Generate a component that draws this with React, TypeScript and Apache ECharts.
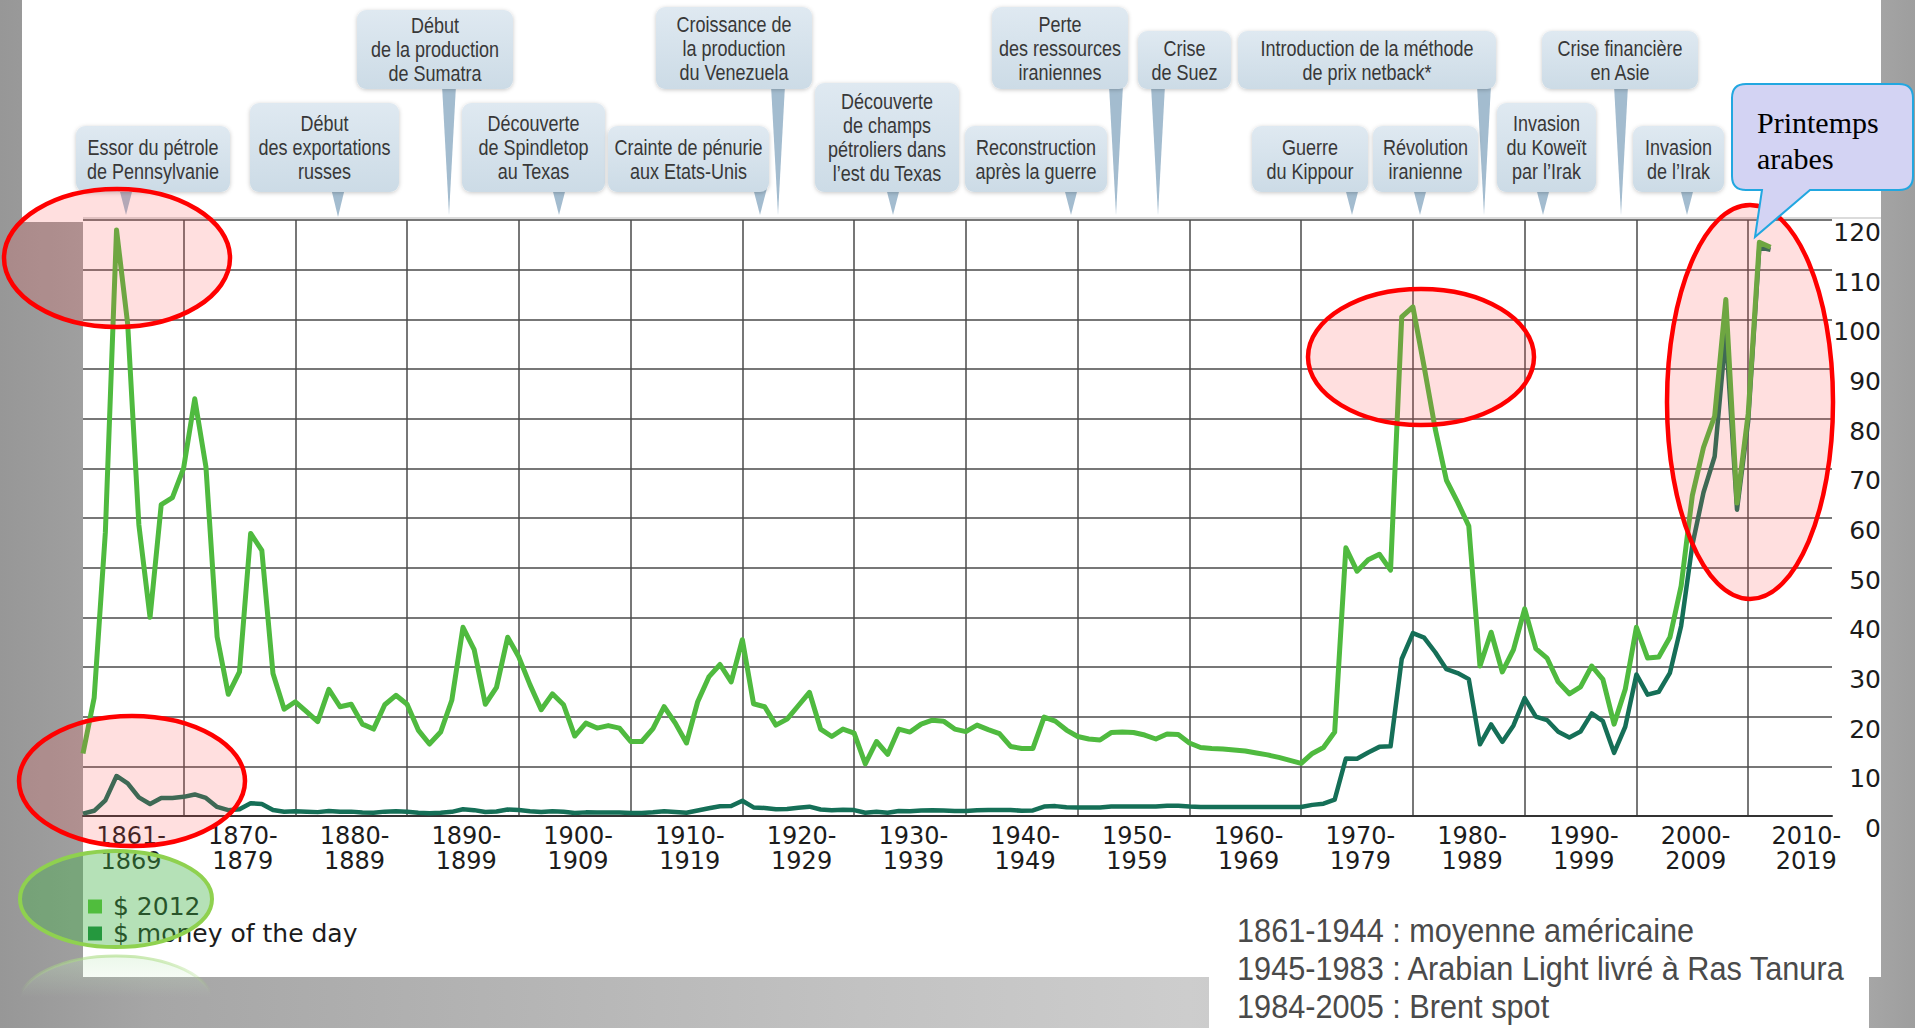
import React, { useEffect, useRef } from "react";
import * as echarts from "echarts";

// ---------- DATA ----------
const FIRST_YEAR = 1861;

// Crude oil price, US$ 2012 (light green line), one value per year 1861-2012
const priceReal2012 = [
  12.6, 23.8, 57.1, 118.0, 99.0, 58.6, 40.0, 62.7, 64.1, 70.0,
  84.0, 70.3, 36.1, 24.5, 29.0, 56.9, 53.5, 28.7, 21.5, 23.0,
  21.0, 19.0, 25.5, 22.0, 22.5, 18.5, 17.5, 22.4, 24.3, 22.5,
  17.3, 14.5, 16.9, 23.3, 38.0, 33.5, 22.5, 25.9, 36.0, 32.0,
  26.4, 21.4, 24.6, 22.4, 16.1, 18.7, 17.7, 18.2, 17.7, 15.0,
  15.0, 17.6, 22.0, 18.7, 14.7, 23.0, 28.0, 30.5, 27.0, 35.5,
  22.6, 22.0, 18.3, 19.5, 22.2, 24.9, 17.5, 16.0, 17.5, 16.7,
  10.5, 15.0, 12.4, 17.5, 16.9, 18.5, 19.3, 19.1, 17.5, 17.0,
  18.3, 17.4, 16.6, 14.0, 13.6, 13.6, 19.9, 19.1, 17.3, 16.0,
  15.5, 15.3, 16.8, 16.9, 16.8, 16.3, 15.5, 16.5, 16.4, 14.7,
  13.8, 13.6, 13.5, 13.3, 13.1, 12.7, 12.3, 11.8, 11.2, 10.6,
  12.6, 13.8, 16.9, 54.0, 49.3, 51.6, 52.7, 49.5, 100.5, 102.5,
  90.5, 77.9, 67.6, 63.2, 58.4, 30.2, 37.0, 29.0, 33.5, 41.7,
  33.7, 31.8, 27.0, 24.6, 26.0, 30.2, 27.5, 18.5, 25.5, 38.0,
  31.8, 32.0, 36.0, 46.3, 64.5, 74.2, 80.5, 104.0, 63.0, 81.0,
  115.5, 114.5,
];

// Crude oil price, money of the day (dark line), 1861-2012
const priceMoneyOfDay = [
  0.49, 1.05, 3.15, 8.06, 6.59, 3.74, 2.41, 3.63, 3.64, 3.86,
  4.34, 3.64, 1.83, 1.17, 1.35, 2.56, 2.42, 1.19, 0.86, 0.95,
  0.86, 0.78, 1.0, 0.84, 0.88, 0.71, 0.67, 0.88, 0.94, 0.87,
  0.67, 0.56, 0.64, 0.84, 1.36, 1.18, 0.79, 0.91, 1.29, 1.19,
  0.96, 0.8, 0.94, 0.86, 0.62, 0.73, 0.72, 0.72, 0.7, 0.61,
  0.61, 0.74, 0.95, 0.81, 0.64, 1.1, 1.56, 1.98, 2.01, 3.07,
  1.73, 1.61, 1.34, 1.43, 1.68, 1.88, 1.3, 1.17, 1.27, 1.19,
  0.65, 0.87, 0.67, 1.0, 0.97, 1.09, 1.18, 1.13, 1.02, 1.02,
  1.14, 1.19, 1.2, 1.21, 1.05, 1.12, 1.9, 1.99, 1.78, 1.71,
  1.71, 1.71, 1.93, 1.93, 1.93, 1.93, 1.9, 2.08, 2.08, 1.9,
  1.8, 1.8, 1.8, 1.8, 1.8, 1.8, 1.8, 1.8, 1.8, 1.8,
  2.24, 2.48, 3.29, 11.58, 11.53, 12.8, 13.92, 14.02, 31.61, 36.83,
  35.93, 32.97, 29.55, 28.78, 27.56, 14.43, 18.44, 14.92, 18.23, 23.73,
  20.0, 19.32, 16.97, 15.82, 17.02, 20.67, 19.09, 12.72, 17.97, 28.5,
  24.44, 25.02, 28.83, 38.27, 54.52, 65.14, 72.39, 97.26, 61.67, 79.5,
  114.5, 114.0,
];

const decadeLines = [1870, 1880, 1890, 1900, 1910, 1920, 1930, 1940, 1950, 1960, 1970, 1980, 1990, 2000, 2010];
const decadeLabels = [
  "1861-\n1869", "1870-\n1879", "1880-\n1889", "1890-\n1899", "1900-\n1909", "1910-\n1919",
  "1920-\n1929", "1930-\n1939", "1940-\n1949", "1950-\n1959", "1960-\n1969", "1970-\n1979",
  "1980-\n1989", "1990-\n1999", "2000-\n2009", "2010-\n2019",
];
const decadeLabelAt = [1865.3, 1875.3, 1885.3, 1895.3, 1905.3, 1915.3, 1925.3, 1935.3, 1945.3, 1955.3, 1965.3, 1975.3, 1985.3, 1995.3, 2005.3, 2015.2];

const seriesNames = ["$ 2012", "$ money of the day"];

const noteLines = [
  "1861-1944 : moyenne américaine",
  "1945-1983 : Arabian Light livré à Ras Tanura",
  "1984-2005 : Brent spot",
];

// ---------- LAYOUT OF THE ANNOTATIONS (pixels) ----------
type Callout = { lines: string[]; box: [number, number, number, number]; tip: [number, number] };
const callouts: Callout[] = [
  { lines: ["Essor du pétrole", "de Pennsylvanie"], box: [76, 126, 230, 192], tip: [126, 215] },
  { lines: ["Début", "des exportations", "russes"], box: [250, 103, 399, 192], tip: [338, 217] },
  { lines: ["Début", "de la production", "de Sumatra"], box: [357, 10, 513, 89], tip: [449, 215] },
  { lines: ["Découverte", "de Spindletop", "au Texas"], box: [462, 103, 605, 192], tip: [559, 215] },
  { lines: ["Crainte de pénurie", "aux Etats-Unis"], box: [608, 126, 769, 192], tip: [760, 215] },
  { lines: ["Croissance de", "la production", "du Venezuela"], box: [656, 7, 812, 89], tip: [778, 215] },
  { lines: ["Découverte", "de champs", "pétroliers dans", "l’est du Texas"], box: [815, 83, 959, 192], tip: [893, 215] },
  { lines: ["Reconstruction", "après la guerre"], box: [965, 126, 1107, 192], tip: [1071, 215] },
  { lines: ["Perte", "des ressources", "iraniennes"], box: [992, 7, 1128, 89], tip: [1116, 215] },
  { lines: ["Crise", "de Suez"], box: [1138, 31, 1231, 89], tip: [1158, 215] },
  { lines: ["Introduction de la méthode", "de prix netback*"], box: [1238, 31, 1496, 89], tip: [1484, 215] },
  { lines: ["Guerre", "du Kippour"], box: [1252, 126, 1368, 192], tip: [1352, 215] },
  { lines: ["Révolution", "iranienne"], box: [1373, 126, 1478, 192], tip: [1420, 215] },
  { lines: ["Invasion", "du Koweït", "par l’Irak"], box: [1497, 103, 1596, 192], tip: [1543, 215] },
  { lines: ["Crise financière", "en Asie"], box: [1542, 31, 1698, 89], tip: [1621, 215] },
  { lines: ["Invasion", "de l’Irak"], box: [1633, 126, 1724, 192], tip: [1687, 215] },
];

const redEllipses = [
  { cx: 117, cy: 258, rx: 113, ry: 69 },
  { cx: 132, cy: 781, rx: 113, ry: 65 },
  { cx: 1421, cy: 357, rx: 113, ry: 68 },
  { cx: 1750, cy: 402, rx: 83, ry: 197 },
];

const PA_PATH =
  "M1746 84 L1899 84 Q1913 84 1913 98 L1913 176 Q1913 190 1899 190 L1810 190 L1755 237 L1762 190 L1746 190 Q1732 190 1732 176 L1732 98 Q1732 84 1746 84 Z";
echarts.graphic.registerShape("paCallout", echarts.graphic.extendPath(PA_PATH, {}));

const SANS = "'Liberation Sans', Arial, sans-serif";

function buildGraphic() {
  const els: any[] = [];
  els.push({
    type: "line",
    z: 1,
    shape: { x1: 83, y1: 218, x2: 1881, y2: 218 },
    style: { stroke: "#cfcfcf", lineWidth: 1.5 },
  });
  callouts.forEach((c) => {
    const [x1, y1, x2, y2] = c.box;
    const [tx, ty] = c.tip;
    els.push({
      type: "polygon",
      z: 9,
      shape: { points: [[tx - 7, y2 - 4], [tx + 7, y2 - 4], [tx, ty]] },
      style: { fill: "#a3bccf" },
    });
    els.push({
      type: "rect",
      z: 10,
      shape: { x: x1, y: y1, width: x2 - x1, height: y2 - y1, r: 9 },
      style: {
        fill: {
          type: "linear", x: 0, y: 0, x2: 0, y2: 1,
          colorStops: [
            { offset: 0, color: "#dfe9f1" },
            { offset: 1, color: "#ccdbe6" },
          ],
        },
        shadowBlur: 4,
        shadowColor: "rgba(0,0,0,0.22)",
        shadowOffsetY: 1,
      },
    });
    els.push({
      type: "text",
      z: 11,
      x: (x1 + x2) / 2,
      y: (y1 + y2) / 2,
      scaleX: 0.8,
      style: {
        text: c.lines.join("\n"),
        x: 0,
        y: 0,
        align: "center",
        textAlign: "center",
        verticalAlign: "middle",
        textVerticalAlign: "middle",
        fontFamily: SANS,
        fontSize: 22.5,
        lineHeight: 24,
        fill: "#383838",
      },
    });
  });

  redEllipses.forEach((e) => {
    els.push({
      type: "ellipse",
      z: 50,
      shape: { cx: e.cx, cy: e.cy, rx: e.rx, ry: e.ry },
      style: { fill: "rgba(255,80,80,0.18)", stroke: "#ff0000", lineWidth: 4.5 },
    });
  });

  // green ellipse around the legend
  els.push({
    type: "ellipse",
    z: 50,
    shape: { cx: 116, cy: 899, rx: 96, ry: 48 },
    style: { fill: "rgba(60,176,67,0.38)", stroke: "#8fd14f", lineWidth: 4 },
  });
  // faint fading reflection
  els.push({
    type: "ellipse",
    z: 49,
    shape: { cx: 116, cy: 1002, rx: 96, ry: 46 },
    style: {
      fill: {
        type: "linear", x: 0, y: 0, x2: 0, y2: 1,
        colorStops: [
          { offset: 0, color: "rgba(200,235,195,0.35)" },
          { offset: 0.45, color: "rgba(200,235,195,0)" },
          { offset: 1, color: "rgba(200,235,195,0)" },
        ],
      },
      stroke: {
        type: "linear", x: 0, y: 0, x2: 0, y2: 1,
        colorStops: [
          { offset: 0, color: "rgba(170,220,130,0.6)" },
          { offset: 0.4, color: "rgba(170,220,130,0)" },
          { offset: 1, color: "rgba(170,220,130,0)" },
        ],
      },
      lineWidth: 3,
    },
  });

  els.push({
    type: "paCallout",
    z: 60,
    x: 0,
    y: 0,
    style: { fill: "#d3d3f3", stroke: "#22a7e0", lineWidth: 2 },
  });
  els.push({
    type: "text",
    z: 61,
    style: {
      text: "Printemps\narabes",
      x: 1757,
      y: 140,
      align: "left",
      textAlign: "left",
      verticalAlign: "middle",
      textVerticalAlign: "middle",
      fontFamily: "'Liberation Serif', 'Times New Roman', serif",
      fontSize: 30,
      lineHeight: 36,
      fill: "#000",
    },
  });

  noteLines.forEach((t, i) => {
    els.push({
      type: "text",
      z: 5,
      x: 1237,
      y: 931 + i * 38,
      scaleX: 0.93,
      style: {
        text: t,
        x: 0,
        y: 0,
        align: "left",
        textAlign: "left",
        verticalAlign: "middle",
        textVerticalAlign: "middle",
        fontFamily: SANS,
        fontSize: 33,
        fill: "#4a4a4a",
      },
    });
  });
  return els;
}

function buildOption() {
  const realPairs = priceReal2012.map((v, i) => [FIRST_YEAR + i, v]);
  const nominalPairs = priceMoneyOfDay.map((v, i) => [FIRST_YEAR + i, v]);
  const axisFont = "'DejaVu Sans', Verdana, sans-serif";
  return {
    animation: false,
    grid: { left: 83, right: 83, top: 220, bottom: 212 },
    legend: {
      orient: "vertical",
      left: 83,
      top: 888,
      itemWidth: 14,
      itemHeight: 14,
      itemGap: 0,
      icon: "rect",
      selectedMode: false,
      textStyle: {
        fontFamily: axisFont,
        fontSize: 25,
        lineHeight: 27,
        color: "#1c1c1c",
        padding: [0, 0, 0, 6],
      },
      data: [
        { name: seriesNames[0], itemStyle: { color: "#5cc63a" } },
        { name: seriesNames[1], itemStyle: { color: "#178a3c" } },
      ],
    },
    xAxis: {
      type: "value",
      min: FIRST_YEAR,
      max: 2017.5,
      axisLine: { show: true, lineStyle: { color: "#333", width: 2 } },
      axisTick: { show: false, customValues: decadeLines },
      splitLine: { show: true, lineStyle: { color: "#4a4a4a", width: 1.5 } },
      axisLabel: {
        customValues: decadeLabelAt,
        formatter: (v: number) => {
          const idx = decadeLabelAt.findIndex((y) => Math.abs(y - v) < 0.01);
          return idx >= 0 ? decadeLabels[idx] : "";
        },
        fontFamily: axisFont,
        fontSize: 24,
        lineHeight: 24.5,
        color: "#1c1c1c",
        margin: 8,
      },
    },
    yAxis: {
      type: "value",
      position: "right",
      min: 0,
      max: 120,
      interval: 10,
      axisLine: { show: false },
      axisTick: { show: false },
      splitLine: { show: true, lineStyle: { color: "#4a4a4a", width: 1.5 } },
      axisLabel: {
        align: "right",
        verticalAlign: "top",
        margin: 49,
        fontFamily: axisFont,
        fontSize: 25,
        color: "#1c1c1c",
      },
    },
    series: [
      {
        name: seriesNames[1],
        type: "line",
        data: nominalPairs,
        symbol: "none",
        z: 3,
        lineStyle: { color: "#156f57", width: 4.5, join: "round" },
        itemStyle: { color: "#156f57" },
      },
      {
        name: seriesNames[0],
        type: "line",
        data: realPairs,
        symbol: "none",
        z: 4,
        lineStyle: { color: "#4fba3f", width: 5, join: "round" },
        itemStyle: { color: "#4fba3f" },
      },
    ],
    graphic: { elements: buildGraphic() },
  };
}

export default function App() {
  const ref = useRef<HTMLDivElement>(null);
  useEffect(() => {
    if (!ref.current) return;
    const chart = echarts.init(ref.current, null, { renderer: "svg" });
    chart.setOption(buildOption() as any);
    return () => chart.dispose();
  }, []);
  return (
    <div
      style={{
        position: "fixed",
        left: 0,
        top: 0,
        width: 1915,
        height: 1028,
        overflow: "hidden",
        background:
          "linear-gradient(90deg, #979797 0%, #a6a6a6 8%, #c2c2c2 45%, #cdcdcd 62%, #b8b8b8 92%, #9e9e9e 100%)",
      }}
    >
      <div style={{ position: "absolute", left: 22, top: 0, width: 1859, height: 222, background: "#fff" }} />
      <div style={{ position: "absolute", left: 83, top: 218, width: 1798, height: 759, background: "#fff" }} />
      <div style={{ position: "absolute", left: 1209, top: 900, width: 660, height: 128, background: "#fff" }} />
      <div ref={ref} style={{ position: "absolute", left: 0, top: 0, width: 1915, height: 1028 }} />
    </div>
  );
}
